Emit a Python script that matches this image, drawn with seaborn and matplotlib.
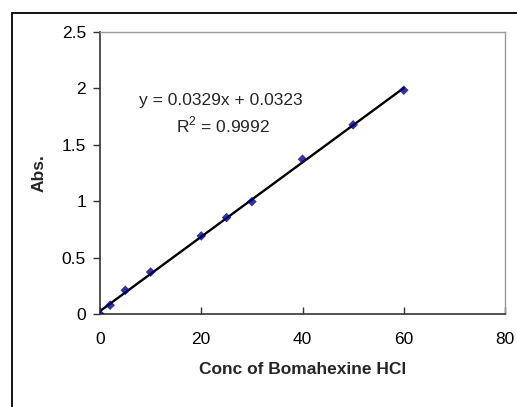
import matplotlib
matplotlib.use("Agg")
import matplotlib.pyplot as plt
import seaborn as sns
import pandas as pd
from matplotlib.patches import Rectangle

conc = [0, 2, 5, 10, 20, 25, 30, 40, 50, 60]
absorb = [0.0, 0.078, 0.21, 0.372, 0.692, 0.855, 0.996, 1.372, 1.677, 1.984]
eq_text = "y = 0.0329x + 0.0323"
r2_text = "R$^2$ = 0.9992"
x_ticks = [0, 20, 40, 60, 80]
y_ticks = [0, 0.5, 1, 1.5, 2, 2.5]
y_tick_labels = ["0", "0.5", "1", "1.5", "2", "2.5"]

df = pd.DataFrame({"conc": conc, "abs": absorb})

sns.set_style("white")
plt.rcParams["font.family"] = ["Liberation Sans", "DejaVu Sans"]
plt.rcParams["mathtext.fontset"] = "custom"
plt.rcParams["mathtext.rm"] = "Liberation Sans"

FS = 12.5
W, H = 517, 407
fig = plt.figure(figsize=(W / 100, H / 100), dpi=100)
ax = fig.add_axes([100 / W, 1 - 314 / H, 405 / W, 282 / H])

sns.regplot(data=df, x="conc", y="abs", ax=ax, ci=None, truncate=True,
            marker="D",
            scatter_kws=dict(s=24, color="#000080", edgecolors="none", zorder=3),
            line_kws=dict(color="black", lw=1.7, zorder=2))

ax.set_xlim(0, 80)
ax.set_ylim(0, 2.5)
ax.set_xticks(x_ticks)
ax.set_yticks(y_ticks)
ax.set_yticklabels(y_tick_labels)
ax.tick_params(axis="x", direction="in", length=5, width=1, color="#333333",
               labelsize=FS, pad=13, labelcolor="black", bottom=True)
ax.tick_params(axis="y", direction="out", length=5, width=1, color="#333333",
               labelsize=FS, pad=5, labelcolor="black", left=True)

for side in ["left", "bottom"]:
    ax.spines[side].set_color("#333333")
    ax.spines[side].set_linewidth(1.2)
for side in ["top", "right"]:
    ax.spines[side].set_color("#999999")
    ax.spines[side].set_linewidth(1.0)

ax.set_xlabel("Conc of Bomahexine HCl", fontsize=FS, fontweight="bold", labelpad=11)
ax.set_ylabel("Abs.", fontsize=FS, fontweight="bold", labelpad=11)

ax.text(23.9, 1.895, eq_text, fontsize=FS, ha="center", va="center")
ax.text(24.3, 1.675, r2_text, fontsize=FS, ha="center", va="center")

fig.patches.append(Rectangle((12 / W, -0.1), 1.2, 1 - 13 / H + 0.1,
                             transform=fig.transFigure, fill=False,
                             edgecolor="black", lw=1.3))

fig.savefig("out.png", dpi=100)
